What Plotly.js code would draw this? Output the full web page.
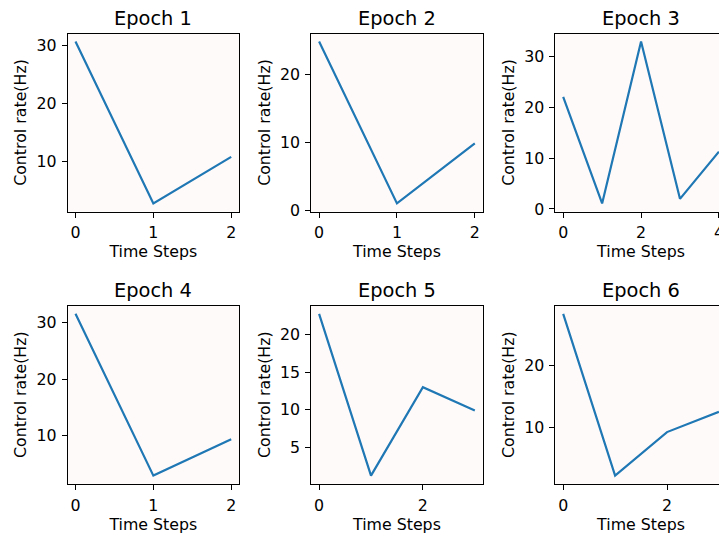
<!DOCTYPE html>
<html>
<head>
<meta charset="utf-8">
<script src="https://cdn.plot.ly/plotly-3.0.1.min.js"></script>
<style>
html, body { margin: 0; padding: 0; overflow: hidden; background: #ffffff; width: 719px; height: 534px; }
#chart { width: 740px; height: 534px; }
</style>
</head>
<body>
<div id="chart"></div>
<script>
// ---- data ----
const epochTitles = ['Epoch 1', 'Epoch 2', 'Epoch 3', 'Epoch 4', 'Epoch 5', 'Epoch 6'];
const epoch1 = [30.6, 2.8, 10.8];
const epoch2 = [24.8, 1.1, 9.9];
const epoch3 = [22.1, 1.1, 33.0, 2.0, 11.3];
const epoch4 = [31.5, 3.0, 9.4];
const epoch5 = [22.8, 1.2, 13.0, 9.9];
const epoch6 = [28.5, 2.1, 9.2, 12.5];
const xTickVals = [[0, 1, 2], [0, 1, 2], [0, 2, 4], [0, 1, 2], [0, 2], [0, 2]];
const yTickVals = [[10, 20, 30], [0, 10, 20], [0, 10, 20, 30], [10, 20, 30], [5, 10, 15, 20], [10, 20]];
const xLabel = 'Time Steps';
const yLabel = 'Control rate(Hz)';

const series = [epoch1, epoch2, epoch3, epoch4, epoch5, epoch6];

// ---- layout geometry (pixels) ----
const W = 740, H = 534;
const colLeft = [67.7, 311.3, 555.4];
const colW = 171.3;
const rowTop = [33.5, 305.7];
const rowH = 178;

const font = 'DejaVu Sans, sans-serif';
const FS = 15.8, TFS = 19.4;
const traces = [];
const layout = {
  width: W, height: H,
  margin: {l: 0, r: 0, t: 0, b: 0, pad: 0},
  paper_bgcolor: '#ffffff',
  plot_bgcolor: '#fffafa',
  showlegend: false,
  font: {family: font, size: FS, color: '#000000'},
  annotations: []
};

function pad(vals) {
  const mn = Math.min(...vals), mx = Math.max(...vals);
  const s = mx - mn;
  return [mn - 0.05 * s, mx + 0.05 * s];
}

series.forEach((vals, i) => {
  const r = Math.floor(i / 3), c = i % 3;
  const xs = vals.map((_, k) => k);
  const n = i + 1;
  const xa = 'x' + (n === 1 ? '' : n), ya = 'y' + (n === 1 ? '' : n);
  traces.push({
    x: xs, y: vals, type: 'scatter', mode: 'lines',
    line: {color: '#1f77b4', width: 2.2},
    xaxis: xa, yaxis: ya, hoverinfo: 'skip'
  });
  const xd = [colLeft[c] / W, (colLeft[c] + colW) / W];
  const yd = [1 - (rowTop[r] + rowH) / H, 1 - rowTop[r] / H];
  const common = {
    showline: true, mirror: true, linecolor: '#000000', linewidth: 1,
    ticks: 'outside', ticklen: 5, tickwidth: 1, tickcolor: '#000000',
    ticklabelstandoff: 2,
    showgrid: false, zeroline: false, fixedrange: true,
    tickfont: {family: font, size: FS, color: '#000000'}
  };
  layout['xaxis' + (n === 1 ? '' : n)] = Object.assign({}, common, {
    domain: xd, anchor: ya, range: pad(xs),
    tickmode: 'array', tickvals: xTickVals[i], ticktext: xTickVals[i].map(String),
    title: {text: xLabel, font: {family: font, size: FS, color: '#000000'}, standoff: 4}
  });
  layout['yaxis' + (n === 1 ? '' : n)] = Object.assign({}, common, {
    domain: yd, anchor: xa, range: pad(vals),
    tickmode: 'array', tickvals: yTickVals[i], ticktext: yTickVals[i].map(String),
    title: {text: yLabel, font: {family: font, size: FS, color: '#000000'}, standoff: 5}
  });
  layout.annotations.push({
    text: epochTitles[i], showarrow: false,
    xref: 'paper', yref: 'paper',
    x: (xd[0] + xd[1]) / 2, y: yd[1],
    xanchor: 'center', yanchor: 'bottom', yshift: 1.5,
    font: {family: font, size: TFS, color: '#000000'}
  });
});

Plotly.newPlot('chart', traces, layout, {staticPlot: true, displayModeBar: false});
</script>
</body>
</html>
